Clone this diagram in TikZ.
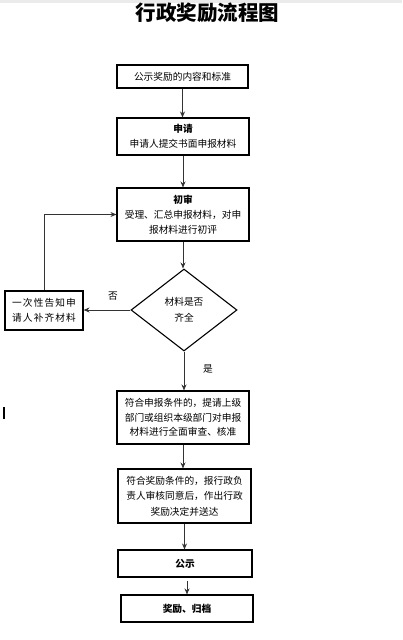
\documentclass[tikz,border=0pt]{standalone}
\usepackage{fontspec}
\setmainfont{Noto Sans CJK SC}
\newfontfamily\cjk{Noto Sans CJK SC}
\newfontfamily\cjkwide[LetterSpace=11]{Noto Sans CJK SC}
\usetikzlibrary{shapes.geometric,arrows.meta}
\begin{document}
\begin{tikzpicture}[x=1pt,y=-1pt,
  box/.style={draw=black,line width=1.1pt,rectangle,inner sep=0pt,align=center,
    font=\cjk\fontsize{9.7}{15}\selectfont},
  decision/.style={draw=black,line width=1.1pt,diamond,inner sep=0pt,align=center,
    minimum width=106pt,minimum height=82pt,font=\cjk\fontsize{9.7}{16}\selectfont},
  lbl/.style={font=\cjk\fontsize{9.7}{12}\selectfont,inner sep=0pt},
  arr/.style={draw=black!80,line width=0.9pt,-{Stealth[length=6pt,width=5pt]}},
  ln/.style={draw=black!80,line width=0.9pt}]
\useasboundingbox (0,0) rectangle (402,640);
\fill[black!8] (0,0) rectangle (402,2.5);
\fill[black] (3,407) rectangle (5,419);

\node[font=\cjk\bfseries\fontsize{20.5}{24}\selectfont,inner sep=0pt] (title) at (207.5,13) {行政奖励流程图};

\node[box,minimum width=131pt,minimum height=23pt] (b1) at (182.5,76.5) {公示奖励的内容和标准};
\node[box,minimum width=132pt,minimum height=37pt] (b2) at (183,136.5) {\textbf{申请}\\申请人提交书面申报材料};
\node[box,minimum width=132pt,minimum height=53pt] (b3) at (183,214.5) {\textbf{初审}\\受理、汇总申报材料，对申\\报材料进行初评};
\node[decision] (d) at (184,310) {材料是否\\齐全};
\node[box,minimum width=78pt,minimum height=39pt,font=\cjkwide\fontsize{9.7}{15}\selectfont] (nb) at (44,310.5) {一次性告知申\\请人补齐材料};
\node[box,minimum width=132pt,minimum height=53pt,font=\cjk\fontsize{9.7}{14.5}\selectfont] (b4) at (183,417.5) {符合申报条件的，提请上级\\部门或组织本级部门对申报\\材料进行全面审查、核准};
\node[box,minimum width=133pt,minimum height=54pt,font=\cjk\fontsize{9.7}{15.5}\selectfont] (b5) at (184.5,496) {符合奖励条件的，报行政负\\责人审核同意后，作出行政\\奖励决定并送达};
\node[box,minimum width=134pt,minimum height=27pt] (b6) at (185,563.5) {\textbf{公示}};
\node[box,minimum width=132pt,minimum height=27pt] (b7) at (187,608.5) {\textbf{奖励、归档}};

\coordinate (corner) at (nb.north |- b3.west);

\draw[arr] (b1.south) -- (b1.south |- b2.north);
\draw[arr] (b2.south) -- (b2.south |- b3.north);
\draw[arr] (b3.south) -- (b3.south |- d.north);
\draw[arr] (d.west) -- (d.west -| nb.east);
\draw[ln] (nb.north) -- (corner);
\draw[arr] (corner) -- (b3.west);
\draw[arr] (d.south) -- (d.south |- b4.north);
\draw[arr] (b4.south) -- (b4.south |- b5.north);
\draw[arr] (b5.south) -- (b5.south |- b6.north);
\draw[arr,shorten <=3pt] (b7.north |- b6.south) -- (b7.north);

\node[lbl] (no) at (113,296) {否};
\node[lbl] (yes) at (208,369) {是};
\end{tikzpicture}
\end{document}
